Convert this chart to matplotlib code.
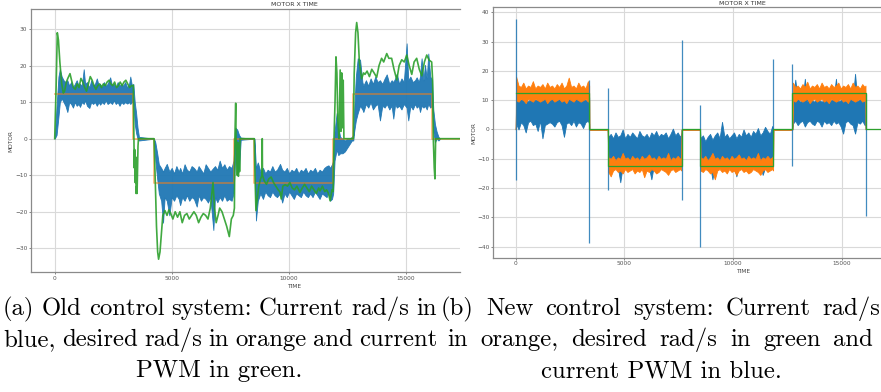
import matplotlib
matplotlib.use("Agg")
import matplotlib.pyplot as plt

# ---------------- (a) old control system ----------------
# desired rad/s: segment start times and levels
seg_a = [0, 3360, 4244, 7660, 8530, 11906, 12760, 16137, 17400]
lvl_a = [12.2, 0, -12.2, 0, -12.2, 0, 12.2, 0, 0]

# current rad/s: envelope of the noisy signal (time, upper, lower)
cur_a_t = [0, 80, 160, 220, 300, 380, 460, 540, 620, 700, 780, 860, 940, 1020, 1080,
           1160, 1240, 1300, 1380, 1480, 1560, 1640, 1720, 1800, 1880, 1940, 2020, 2100,
           2180, 2260, 2370, 2450, 2530, 2610, 2690, 2770, 2850, 2930, 3010, 3100, 3180,
           3230, 3300, 3360, 3420, 3480, 3540, 3600,
           4244, 4300, 4380, 4450, 4550, 4630, 4700, 4790, 4900, 5000, 5100, 5200, 5300,
           5360, 5450, 5550, 5650, 5750, 5850, 5950, 6070, 6150, 6250, 6350, 6450, 6550,
           6650, 6780, 6850, 6950, 7050, 7150, 7250, 7350, 7450, 7560, 7640, 7680, 7720,
           7800, 7880, 7950,
           8530, 8560, 8600, 8680, 8790, 8900, 9000, 9100, 9200, 9300, 9400, 9500, 9630,
           9720, 9820, 9920, 10020, 10120, 10220, 10320, 10420, 10520, 10620, 10720, 10820,
           10920, 11020, 11120, 11220, 11320, 11420, 11520, 11620, 11700, 11767, 11850,
           11900, 11960, 12050, 12120, 12200, 12300, 12400, 12500, 12600, 12700, 12760,
           12800, 12870, 12950, 13050, 13150, 13190, 13300, 13400, 13500, 13600, 13700,
           13800, 13900, 14000, 14100, 14190, 14300, 14400, 14470, 14550, 14620, 14720,
           14820, 14920, 15040, 15110, 15200, 15300, 15400, 15470, 15560, 15610, 15680,
           15760, 15823, 15900, 15966, 16050, 16130, 16180, 16250, 16320, 16400, 16470]
cur_a_hi = [0, 9, 17, 19, 17, 16, 15.5, 16, 14.5, 15.5, 14, 15, 16, 14.5, 15,
            14.5, 19, 15, 15.5, 14, 16, 14.5, 15, 16.5, 14.5, 15, 14, 15.5,
            14.5, 15, 16.8, 14.5, 15, 14, 15.5, 14.5, 15, 14.5, 15.5, 14, 15,
            17, 14.5, 15, 10, 7, 3, 0.5,
            0, -1, -4, -7, -8, -9, -8, -6.9, -9, -8, -9.5, -7.5, -9,
            -8, -9.5, -7, -8.5, -9, -7.5, -8, -9, -7.5, -8.5, -9.5, -7, -8,
            -9, -8, -7.5, -8.5, -6, -8, -7, -8.5, -7.5, -8, -6, -2, 3,
            2.5, 1, 0.3,
            0, -3, -8, -6.5, -9, -8, -9.5, -8.5, -9, -7.5, -9, -8.5, -6.9,
            -8.5, -9, -8, -9.5, -8.5, -9, -8, -9.5, -8.5, -9, -8, -9.5,
            -8.5, -9, -8, -9.5, -8.5, -9, -8, -7.5, -7.3, -8, -7,
            -6, 2, 7, 3, 0.5, 0, -0.5, 0, 0, 0.5, 1,
            8, 17, 22, 21.6, 15.5, 14.5, 16, 14.5, 16.5, 15, 17,
            15.5, 16, 15, 16.5, 17.6, 15, 16, 15.5, 16.5, 17.8, 15,
            16.5, 15.5, 26.1, 16, 17, 15.5, 16, 16.8, 15.5, 17, 22,
            16, 20.2, 16.5, 23.3, 17, 16, 8, 4, 2, 0.5, 0]
cur_a_lo = [0, 1, 6, 10, 11, 10, 9, 7.3, 10, 9.5, 8.5, 10, 9, 9.5, 8.7,
            10, 9.5, 10.5, 9, 8.4, 10, 9.5, 10, 9, 10, 9.3, 10, 9.5,
            10.5, 9.5, 10, 9.5, 10.5, 9.5, 10, 9, 10, 9.5, 10, 9.6, 10,
            9.5, 10, 10, 4, 1.5, 0, -0.5,
            0, -6, -11, -15, -17, -23, -16, -17, -21, -16, -17, -15.5, -16.5,
            -18.2, -16, -17, -15.5, -17, -16, -16.5, -18.6, -15.5, -17, -16, -16.5, -17.5,
            -16, -25, -16, -17.4, -16, -17, -15.5, -17, -16.5, -17, -15, -10, -4,
            -10, -8, -0.3,
            0, -10, -22.4, -17, -15, -16.5, -14.5, -15.5, -16, -14.5, -15.5, -16, -15,
            -17.5, -15, -16, -14.5, -15.5, -16.5, -15, -15.5, -16, -14.5, -15.5, -16,
            -15, -16, -14.5, -15.5, -16.5, -15, -15.5, -16, -14.5, -17, -16.5,
            -15, -6, -3, -4.5, -4, -4, -3.5, -2.5, -1.5, -0.5, -0.5,
            2, 5, 7, 9, 8, 7.3, 9.5, 8.5, 10, 8, 9,
            9.5, 5, 9, 8.5, 9.5, 8, 9, 5.5, 9.5, 8.5, 9,
            8, 9.5, 8.5, 5, 9, 8, 9.5, 8.5, 9, 7.3, 9,
            8.5, 9, 8, 9.5, 8.5, 9, 2, -1, 0, -0.5, 0]

# current PWM
pwm_a_t = [0, 60, 111, 160, 220, 300, 368, 420, 500, 560, 654, 720, 800, 880, 960, 1040,
           1120, 1200, 1280, 1360, 1440, 1520, 1600, 1680, 1760, 1840, 1920, 2000, 2080,
           2160, 2240, 2320, 2400, 2480, 2560, 2640, 2720, 2800, 2880, 2960, 3040, 3120,
           3200, 3280, 3360, 3380, 3400, 3420, 3440, 3460, 3480, 3500, 3520, 3540, 3560,
           3580, 4244, 4300, 4350, 4400, 4440, 4500, 4560, 4620, 4714, 4800, 4880, 4960,
           5050, 5150, 5250, 5350, 5450, 5550, 5650, 5750, 5850, 5950, 6050, 6150, 6250,
           6350, 6450, 6550, 6650, 6765, 6830, 6900, 6980, 7050, 7150, 7250, 7350, 7462,
           7550, 7632, 7680, 7700, 7735, 7750, 7780, 7800, 7820, 7850, 7880, 7900, 7920,
           8530, 8560, 8600, 8650, 8720, 8800, 8860, 8870, 8880, 8950, 9050, 9150, 9250,
           9350, 9450, 9550, 9630, 9680, 9750, 9850, 9950, 10050, 10150, 10250, 10350,
           10480, 10580, 10680, 10780, 10880, 10980, 11080, 11180, 11280, 11340, 11440,
           11540, 11620, 11700, 11770, 11850, 11900, 11936, 11980, 12020, 12060, 12100,
           12150, 12200, 12230, 12265, 12300, 12330, 12360, 12760, 12800, 12860, 12906,
           12960, 13020, 13117, 13200, 13260, 13350, 13450, 13550, 13650, 13760, 13860,
           13970, 14060, 14190, 14280, 14400, 14500, 14620, 14720, 14830, 14940, 15045,
           15150, 15260, 15360, 15470, 15580, 15690, 15800, 15900, 16000, 16111, 16150,
           16180, 16220, 16250, 16280, 17400]
pwm_a_v = [0, 14, 29, 27, 21, 15, 12.5, 13, 15.5, 16.5, 17.8, 16, 14, 13.5, 15, 14,
           16.5, 15.5, 14, 13, 15, 17, 16, 14.5, 13.5, 14.5, 15, 14, 15,
           14.5, 15.5, 16, 15, 14.5, 15.5, 14, 14.5, 15.5, 14.5, 15.5, 16, 15,
           14, 14.5, 14.6, 2, -8, -3, -12, -5, -15, -13, -15, -8, -2,
           0, 0, -12, -24, -31, -33, -31, -26, -21, -19.7, -21, -19.5, -20.5,
           -22, -20, -21.5, -20, -23, -21, -20.5, -22, -21, -20, -21, -23, -21.5,
           -20.5, -21, -22, -19, -12, -19, -23, -21, -19, -20, -22, -24, -26.8,
           -22, -21, -19, 0, 9.7, 0, -3, -10, -1, -10.3, -2, -9, 0,
           0, -10, -19.7, -17, -13, -11, -10, 0, -10, -11.5, -12.5, -11, -10.5,
           -12, -13, -14, -14.6, -16.5, -13, -12.6, -13, -12, -13.5, -14, -13,
           -14.7, -13.5, -12.5, -13.5, -14.5, -13, -14, -15, -13.5, -14.3, -13,
           -14.5, -14, -15, -17, -14, -14.5, 0, 10, 22.4, 18, 5,
           0, 18.8, 2, 18, 3, 16, 0, 0, 18, 29, 31.8,
           29, 21, 16.4, 18, 17.6, 18.5, 17, 19, 18, 16.8, 20,
           22, 21, 23.3, 22, 22, 19, 16.1, 20, 21.6, 21, 22.9,
           20, 17.6, 21, 22, 19, 17.2, 21, 22.9, 21.5, 21, 16,
           0, -8, -11, 0, 0]

# ---------------- (b) new control system ----------------
seg_b = [0, 3386, 4232, 7636, 8478, 11850, 12723, 16100, 16900]
lvl_b = [12.3, 0, -12.3, 0, -12.3, 0, 12.3, 0, 0]

t_b = [0, 20, 130, 240, 350, 460, 570, 680, 790, 900, 1010, 1120, 1230, 1340, 1450, 1560,
       1670, 1780, 1890, 2000, 2110, 2220, 2330, 2440, 2550, 2660, 2770, 2880, 2990, 3100,
       3210, 3320, 3380, 3386,
       4232, 4260, 4370, 4480, 4590, 4700, 4810, 4920, 5030, 5140, 5250, 5360, 5470, 5580,
       5690, 5800, 5910, 6020, 6130, 6240, 6350, 6460, 6570, 6680, 6790, 6900, 7010, 7120,
       7230, 7340, 7450, 7560, 7620, 7636,
       8478, 8500, 8610, 8720, 8830, 8940, 9050, 9160, 9270, 9380, 9490, 9600, 9710, 9820,
       9930, 10040, 10150, 10260, 10370, 10480, 10590, 10700, 10810, 10920, 11030, 11140,
       11250, 11360, 11470, 11580, 11690, 11800, 11840, 11850,
       12723, 12750, 12860, 12970, 13080, 13190, 13300, 13410, 13520, 13630, 13740, 13850,
       13960, 14070, 14180, 14290, 14400, 14510, 14620, 14730, 14840, 14950, 15060, 15170,
       15280, 15390, 15500, 15610, 15720, 15830, 15940, 16050, 16090, 16100]
# current rad/s (orange) envelope
cur_b_hi = [0, 18, 15, 14.5, 16, 14, 15, 14.5, 16.5, 14, 15, 14.5, 15.5, 14, 16, 14.5,
            15, 14, 15.5, 14.5, 16, 14, 15, 17.7, 14.5, 15, 14, 16, 14.5, 15,
            14, 16.5, 15, 0,
            0, -9.5, -10, -9, -10.5, -9.5, -10, -8, -10, -9.5, -10.5, -9, -10, -9.5,
            -10.5, -9, -10, -9.5, -8.5, -10, -9.5, -10.5, -9, -10, -9.5, -10, -8, -10.5,
            -9.5, -10, -9, -10, -9.5, 0,
            0, -9.5, -10, -9, -10.5, -9.5, -8, -10, -9.5, -10.5, -9, -10, -9.5, -10.5,
            -9, -10, -9.5, -8.5, -10, -9.5, -10.5, -9, -10, -9.5, -10, -8, -10.5,
            -9.5, -10, -9, -10, -9.5, -9, 0,
            0, 16, 14.5, 15, 14, 15.5, 14.5, 16.3, 14, 15, 14.5, 15.5, 14,
            16, 14.5, 15, 14, 15.5, 14.5, 15, 16, 14, 15, 14.5, 15.5,
            14, 16, 14.5, 15, 14, 15.5, 14.5, 15, 0]
cur_b_lo = [0, 10, 9.5, 10.5, 10, 9, 10.5, 10, 9.5, 10.5, 10, 9.5, 10, 10.5, 9, 10,
            10.5, 9.5, 10, 10.5, 9.5, 10, 9, 10.5, 10, 9.5, 10.5, 10, 9.5, 10,
            10.5, 9.5, 10, 0,
            0, -14.5, -16, -14, -13.5, -14.5, -14, -15, -13.5, -14.5, -14, -13.5, -15, -14,
            -14.5, -13.5, -16.3, -14, -14.5, -13.5, -14, -15, -14.5, -13.5, -14, -14.5, -15.5, -14,
            -13.5, -14.5, -14, -13.5, -14, 0,
            0, -14, -14.5, -13.5, -14, -15, -14.5, -17, -14, -13.5, -14.5, -14, -15, -13.5,
            -14.5, -14, -15.5, -14, -13.5, -14.5, -14, -15, -14.5, -13.5, -14, -14.5, -15.5,
            -14, -13.5, -14.5, -14, -13.5, -14, 0,
            0, 10, 9.5, 10.5, 10, 9.5, 10, 10.5, 9, 10, 10.5, 9.5, 10,
            10.5, 9.5, 10, 9, 10.5, 10, 9.5, 10, 10.5, 9.5, 10, 9,
            10.5, 10, 9.5, 10, 10.5, 9.5, 10, 10, 0]
# current PWM (blue) envelope
pwm_b_hi = [0, 11, 10.5, 10, 11, 10.5, 9.5, 10.5, 11, 10, 10.5, 11, 10, 10.5, 11, 10,
            10.5, 11, 10, 10.5, 11, 10, 10.5, 11, 10, 10.5, 11, 10, 10.5, 11,
            10, 10.5, 11, 0,
            0, -2.5, -1.5, -3, -1, -2.5, -2, 0, -3, -1.5, -2.5, -1, -2, -3,
            -0.5, -2, -2.5, -1.5, -3, -1, -2, -0.5, -2.5, -1.5, -2, -1, -3, -1.5,
            0.3, -2, -1, -2.5, -1.5, 0,
            0, -3, -2, -4, -2.5, -1.5, -3.5, -2, -1, -3, 2.6, -2.5, -1.5, -3,
            -2, -1, -3, -1.5, -2.5, 0, -2, -1, -2.5, -0.5, -1.5, 0.5, -2,
            -1, 0.9, -0.5, -1.5, 1.2, 0, 0,
            0, 10, 17, 10.5, 9.5, 10, 17.3, 9.5, 10.5, 10, 9.5, 10.5, 10,
            9.5, 10, 10.5, 9.5, 10, 10.5, 17.3, 9.5, 10, 10.5, 9.5, 10,
            10.5, 10, 19, 9.5, 10.5, 10, 9.5, 10, 0]
pwm_b_lo = [0, 2, 0, 2.5, 1.5, -1, 2.5, 3, 1.5, 2, -0.5, 3, -3, 1.5, 2, 2.5,
            2, 1, 2.5, 3, 1.5, -2.5, 2, 2.5, 1.5, 3, 1, 2.5, 2, 0.5,
            2.5, 3, 2, 0,
            0, -12, -13, -12.5, -12, -13, -18, -12.5, -12, -13, -12.5, -12, -13, -12.5,
            -12, -13, -12.5, -12, -13, -17, -12.5, -12, -13, -12.5, -12, -13, -12.5, -12,
            -13, -12.5, -12, -13, -12.5, 0,
            0, -13, -12.5, -12, -13, -12.5, -17, -12, -13, -12.5, -12, -13, -12.5, -12,
            -13, -12.5, -16, -12, -13, -12.5, -12, -13, -12.5, -12, -13, -12.5, -12,
            -15.5, -13, -12.5, -12, -13, -12.5, 0,
            0, 2, 3, 1.5, 2.5, 3, 1, 2.5, 3, 2, 1.5, 3, 2.5,
            1, 3, 2, 2.5, 1.5, 3, 2, 2.5, 1, -1.4, 2.5, 3,
            2, 1.5, -1.4, 2.5, 2, 3, 1.5, 2, 0]
# single-sample PWM spikes at the set-point changes
spike_t = [0, 3386, 4232, 7650, 8478, 11850, 12723, 16100]
spike_lo = [-17.3, -38.6, -20.7, -24.1, -40.1, -1, -12.4, -29.6]
spike_hi = [37.6, 17, 14, 30.5, 8.5, 23.9, 22.3, 12]

caption_a = ["(a) Old control system: Current rad/s in",
             "blue, desired rad/s in orange and current",
             "PWM in green."]
caption_b = ["(b) New control system: Current rad/s",
             "in orange, desired rad/s in green and",
             "current PWM in blue."]

BLUE, ORANGE, GREEN = "#1f77b4", "#ff7f0e", "#2ca02c"
W, H = 881, 392
CAP_SIZE = 17.8

fig = plt.figure(figsize=(8.81, 3.92), dpi=100)


def style(ax, xlim, ylim, yticks, cx, xlab_y, title_pad):
    ax.set_xlim(*xlim)
    ax.set_ylim(*ylim)
    ax.set_xticks([0, 5000, 10000, 15000])
    ax.set_yticks(yticks)
    ax.grid(True, color="#d9d9d9", linewidth=0.8)
    ax.set_axisbelow(True)
    for s in ["left", "bottom", "top"]:
        ax.spines[s].set_color("#8a8a8a")
        ax.spines[s].set_linewidth(0.9)
    ax.spines["right"].set_visible(False)
    ax.tick_params(labelsize=4.2, colors="#555555", length=1.2, width=0.5, pad=1.5)
    ax.set_title("MOTOR X TIME", fontsize=4.5, color="#333333", x=cx, pad=title_pad)
    ax.set_xlabel("TIME", fontsize=4.2, color="#444444")
    ax.xaxis.set_label_coords(cx, xlab_y)
    ax.set_ylabel("MOTOR", fontsize=4.2, color="#444444")
    ax.yaxis.set_label_coords(-0.042, 0.5)


# (a)
ax1 = fig.add_axes([31 / W, (H - 272) / H, 429 / W, 263 / H])
ax1.fill_between(cur_a_t, cur_a_lo, cur_a_hi, color=BLUE, lw=0.6, alpha=0.95)
ax1.step(seg_a, lvl_a, where="post", color=ORANGE, lw=1.3, alpha=0.55)
ax1.plot(pwm_a_t, pwm_a_v, color=GREEN, lw=1.2, alpha=0.9)
style(ax1, (-1013, 17321), (-36.5, 35.5), [-30, -20, -10, 0, 10, 20, 30],
      0.613, -0.044, 2)

# (b)
ax2 = fig.add_axes([493 / W, (H - 257.7) / H, 388 / W, 250.4 / H])
ax2.fill_between(t_b, pwm_b_lo, pwm_b_hi, color=BLUE, lw=0.6)
ax2.vlines(spike_t, spike_lo, spike_hi, color=BLUE, lw=0.9, alpha=0.85)
ax2.fill_between(t_b, cur_b_lo, cur_b_hi, color=ORANGE, lw=0.6)
ax2.step(seg_b, lvl_b, where="post", color=GREEN, lw=0.9)
style(ax2, (-1044, 16803), (-43.75, 41.7), [-40, -30, -20, -10, 0, 10, 20, 30, 40],
      0.644, -0.045, 2)

# captions: first two lines justified, last line centred
renderer = fig.canvas.get_renderer()


def justified(line, x0, x1, y):
    words = line.split()
    texts = [fig.text(0, 1 - y / H, w, fontsize=CAP_SIZE, family="cmr10", va="center")
             for w in words]
    widths = [t.get_window_extent(renderer).width for t in texts]
    gap = (x1 - x0 - sum(widths)) / (len(words) - 1)
    x = x0
    for t, w in zip(texts, widths):
        t.set_x(x / W)
        x += w + gap


justified(caption_a[0], 3, 437, 309)
justified(caption_a[1], 3, 437, 340)
fig.text(219 / W, 1 - 371 / H, caption_a[2], fontsize=CAP_SIZE, family="cmr10",
         ha="center", va="center")
justified(caption_b[0], 441, 880, 309)
justified(caption_b[1], 447, 873, 340)
fig.text(661 / W, 1 - 371 / H, caption_b[2], fontsize=CAP_SIZE, family="cmr10",
         ha="center", va="center")

fig.savefig("out.png", dpi=100)
